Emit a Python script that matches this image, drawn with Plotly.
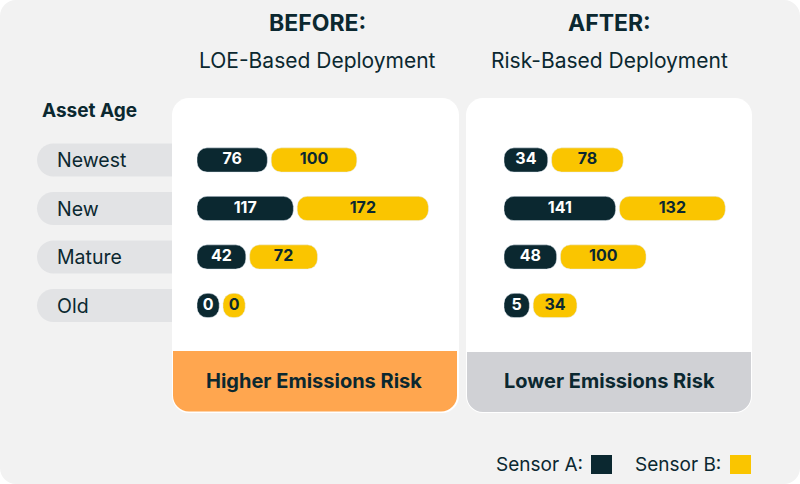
import plotly.graph_objects as go

# data
ages = ["Newest", "New", "Mature", "Old"]
before_a = [76, 117, 42, 0]
before_b = [100, 172, 72, 0]
after_a = [34, 141, 48, 5]
after_b = [78, 132, 100, 34]

W, H = 800, 484
DARK = "#0b2830"
YELLOW = "#fac500"
ORANGE = "#ffa64f"
BAND_GRAY = "#d0d1d5"
PILL_GRAY = "#e2e3e5"
BG = "#f2f2f2"
FONT = "Inter"

PAD = 35   # pill padding (value units) so labels fit
GAP = 6
XMAX = 410

# rows: first row centre at y=160px, 48.5px apart
ROW0, ROW_STEP = 160, 48.5
y_top = ROW0 - ROW_STEP / 2
y_bot = y_top + ROW_STEP * len(ages)


def P(x, y):
    return f"{x / W:.5f},{1 - y / H:.5f}"


def rrect(x0, y0, x1, y1, tl=0, tr=0, br=0, bl=0):
    k = 0.5523
    return (f"M {P(x0 + tl, y0)} L {P(x1 - tr, y0)} "
            f"C {P(x1 - tr + k * tr, y0)} {P(x1, y0 + tr - k * tr)} {P(x1, y0 + tr)} "
            f"L {P(x1, y1 - br)} "
            f"C {P(x1, y1 - br + k * br)} {P(x1 - br + k * br, y1)} {P(x1 - br, y1)} "
            f"L {P(x0 + bl, y1)} "
            f"C {P(x0 + bl - k * bl, y1)} {P(x0, y1 - bl + k * bl)} {P(x0, y1 - bl)} "
            f"L {P(x0, y0 + tl)} "
            f"C {P(x0, y0 + tl - k * tl)} {P(x0 + tl - k * tl, y0)} {P(x0 + tl, y0)} Z")


def shape(path, color):
    return dict(type="path", path=path, xref="paper", yref="paper",
                fillcolor=color, line=dict(width=0), layer="below")


fig = go.Figure()


def add_pair(a_vals, b_vals, xa):
    len_a = [PAD + v for v in a_vals]
    len_b = [PAD + v for v in b_vals]
    base_b = [la + GAP for la in len_a]
    fig.add_trace(go.Bar(
        y=ages, x=len_a, base=[0] * len(a_vals), orientation="h",
        xaxis=xa, yaxis="y", width=0.5, marker=dict(color=DARK, cornerradius=10),
        hoverinfo="skip", showlegend=False, name="Sensor A"))
    fig.add_trace(go.Bar(
        y=ages, x=len_b, base=base_b, orientation="h", xaxis=xa, yaxis="y", width=0.5,
        marker=dict(color=YELLOW, cornerradius=10),
        hoverinfo="skip", showlegend=False, name="Sensor B"))
    # value labels centred in each pill
    fig.add_trace(go.Scatter(
        y=ages, x=[la / 2 for la in len_a], mode="text", text=a_vals,
        xaxis=xa, yaxis="y", textposition="middle center",
        textfont=dict(family=FONT, size=16, color="white", weight=700),
        hoverinfo="skip", showlegend=False))
    fig.add_trace(go.Scatter(
        y=ages, x=[bb + lb / 2 for bb, lb in zip(base_b, len_b)], mode="text", text=b_vals,
        xaxis=xa, yaxis="y", textposition="middle center",
        textfont=dict(family=FONT, size=16, color=DARK, weight=700),
        hoverinfo="skip", showlegend=False))


add_pair(before_a, before_b, "x")
add_pair(after_a, after_b, "x2")

shapes = [shape(rrect(0, 0, W, H, 16, 16, 16, 16), BG)]
for i in range(len(ages)):
    cy = ROW0 + i * ROW_STEP
    shapes.append(shape(rrect(37, cy - 16.5, 200, cy + 16.5, 16.5, 0, 0, 16.5), PILL_GRAY))
shapes += [
    shape(rrect(172, 98, 459, 413, 17, 17, 17, 17), "white"),
    shape(rrect(173, 351, 457, 411.5, 0, 0, 16, 16), ORANGE),
    shape(rrect(466, 98, 752, 413, 17, 17, 17, 17), "white"),
    shape(rrect(467, 352, 751, 412, 0, 0, 16, 16), BAND_GRAY),
    shape(rrect(591, 455, 612, 474), DARK),
    shape(rrect(730, 455, 751, 474), YELLOW),
]

ann = []


def text(x, y, s, size, bold=False, anchor="center"):
    ann.append(dict(x=x / W, y=1 - y / H, xref="paper", yref="paper", text=s,
                    showarrow=False, xanchor=anchor, yanchor="middle",
                    font=dict(family=FONT, size=size, color=DARK, weight=700 if bold else 400)))


text(317, 23, "BEFORE:", 23, True)
text(317, 60, "LOE-Based Deployment", 21)
text(609, 23, "AFTER:", 23, True)
text(609, 60, "Risk-Based Deployment", 21)
text(40, 111, "Asset Age", 19, True, "left")
text(314, 381, "Higher Emissions Risk", 20, True)
text(609, 381, "Lower Emissions Risk", 20, True)
text(494, 464, "Sensor A:", 19, False, "left")
text(633, 464, "Sensor B:", 19, False, "left")
for a in ages:
    ann.append(dict(x=55 / W, y=a, xref="paper", yref="y", text=a, showarrow=False,
                    xanchor="left", yanchor="middle",
                    font=dict(family=FONT, size=19.5, color=DARK)))

axis_off = dict(visible=False, fixedrange=True, range=[0, XMAX])
fig.update_layout(
    width=W, height=H, margin=dict(l=0, r=0, t=0, b=0),
    paper_bgcolor="white", plot_bgcolor="rgba(0,0,0,0)",
    barmode="overlay", showlegend=False,
    xaxis=dict(domain=[197 / W, 457 / W], **axis_off),
    xaxis2=dict(domain=[504 / W, 764 / W], **axis_off),
    yaxis=dict(domain=[1 - y_bot / H, 1 - y_top / H], visible=False, fixedrange=True,
               type="category", categoryorder="array", categoryarray=ages,
               range=[len(ages) - 0.5, -0.5]),
    shapes=shapes, annotations=ann,
)

# drop the browser's default 8px body margin so the figure sits at (0, 0)
fig.write_html("out.html", config={"displayModeBar": False},
               post_script="document.body.style.margin='0';")
